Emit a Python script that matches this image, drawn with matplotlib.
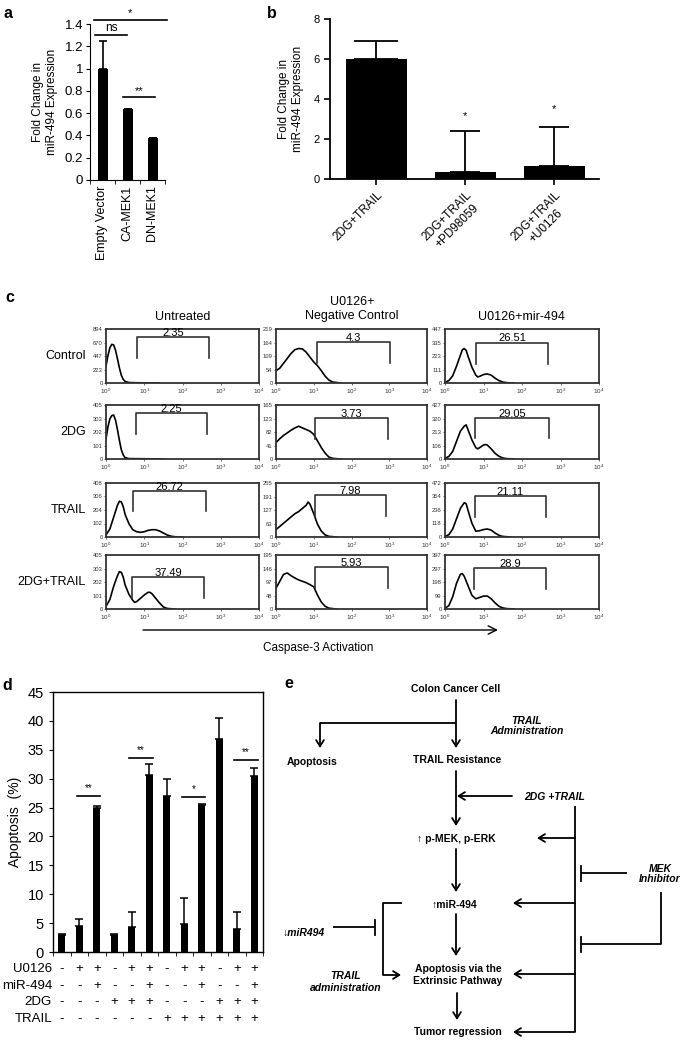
import numpy as np
import matplotlib
matplotlib.use('Agg')
import matplotlib.pyplot as plt

plt.rcParams['font.family'] = ['Liberation Sans', 'DejaVu Sans']
plt.rcParams['mathtext.fontset'] = 'custom'
plt.rcParams['mathtext.rm'] = 'Liberation Sans'

W, H = 685, 1041

# ---------------- data ----------------
a_categories = ['Empty Vector', 'CA-MEK1', 'DN-MEK1']
a_values = [1.0, 0.64, 0.38]
a_err = [0.25, 0.0, 0.0]
a_yticks = [0, 0.2, 0.4, 0.6, 0.8, 1.0, 1.2, 1.4]
a_yticklabels = ['0', '0.2', '0.4', '0.6', '0.8', '1', '1.2', '1.4']

b_categories = ['2DG+TRAIL', '2DG+TRAIL\n+PD98059', '2DG+TRAIL\n+U0126']
b_values = [6.0, 0.35, 0.65]
b_err = [0.9, 2.05, 1.95]
b_stars = ['', '*', '*']
b_star_y = [0, 3.15, 3.5]
b_yticks = [0, 2, 4, 6, 8]

c_columns = ['Untreated', 'U0126+\nNegative Control', 'U0126+mir-494']
c_rows = ['Control', '2DG', 'TRAIL', '2DG+TRAIL']
c_percent = [['2.35', '4.3', '26.51'],
             ['2.25', '3.73', '29.05'],
             ['26.72', '7.98', '21.11'],
             ['37.49', '5.93', '28.9']]
c_yticks = [
    [[0, 223, 447, 670, 894], [0, 54, 109, 164, 219], [0, 111, 223, 335, 447]],
    [[0, 101, 202, 303, 405], [0, 41, 82, 123, 165], [0, 106, 213, 320, 427]],
    [[0, 102, 204, 306, 408], [0, 63, 127, 191, 255], [0, 118, 236, 354, 472]],
    [[0, 101, 202, 303, 405], [0, 48, 97, 146, 195], [0, 99, 198, 297, 397]],
]
c_gate_lo = [[0.81, 1.09, 0.81], [0.78, 1.03, 0.78], [0.71, 1.03, 0.78], [0.68, 1.03, 0.75]]
c_gate_hi = [[2.69, 3.02, 2.68], [2.64, 2.97, 2.70], [2.61, 2.91, 2.62], [2.56, 2.97, 2.62]]
c_xtick_labels = ['$10^0$', '$10^1$', '$10^2$', '$10^3$', '$10^4$']

# histogram curves: log10 fluorescence position and event counts
hist_logx = [
    [[0, 0.05, 0.1, 0.15, 0.2, 0.25, 0.3, 0.35, 0.4, 0.45, 0.5, 0.6, 0.8, 1.0, 1.2, 1.4],
     [0, 0.1, 0.2, 0.3, 0.4, 0.5, 0.6, 0.7, 0.8, 0.9, 1.0, 1.1, 1.2, 1.3, 1.4, 1.5, 1.7],
     [0, 0.1, 0.2, 0.3, 0.4, 0.45, 0.5, 0.55, 0.6, 0.7, 0.8, 0.85, 0.9, 1.0, 1.1, 1.2, 1.3, 1.4, 1.5, 1.6, 1.8]],
    [[0, 0.05, 0.1, 0.15, 0.2, 0.25, 0.3, 0.35, 0.4, 0.45, 0.5, 0.6, 1.0, 1.5],
     [0, 0.1, 0.2, 0.3, 0.4, 0.5, 0.6, 0.7, 0.8, 0.9, 1.0, 1.1, 1.2, 1.3, 1.4, 1.5, 1.7],
     [0, 0.1, 0.2, 0.3, 0.4, 0.5, 0.55, 0.6, 0.7, 0.8, 0.85, 0.9, 1.0, 1.05, 1.1, 1.2, 1.3, 1.4, 1.5, 1.6, 1.8]],
    [[0, 0.1, 0.2, 0.3, 0.35, 0.4, 0.45, 0.5, 0.6, 0.7, 0.8, 0.9, 1.0, 1.1, 1.2, 1.3, 1.4, 1.5, 1.6, 1.7, 1.8, 2.0],
     [0, 0.1, 0.2, 0.3, 0.4, 0.5, 0.6, 0.7, 0.8, 0.85, 0.9, 1.0, 1.1, 1.2, 1.3, 1.4, 1.6],
     [0, 0.1, 0.2, 0.3, 0.4, 0.5, 0.55, 0.6, 0.7, 0.8, 0.9, 1.0, 1.1, 1.2, 1.3, 1.4, 1.5, 1.7]],
    [[0, 0.1, 0.2, 0.3, 0.35, 0.4, 0.45, 0.5, 0.6, 0.7, 0.75, 0.8, 0.9, 1.0, 1.1, 1.15, 1.2, 1.3, 1.4, 1.5, 1.6, 1.8],
     [0, 0.1, 0.2, 0.3, 0.4, 0.5, 0.6, 0.7, 0.8, 0.9, 1.0, 1.1, 1.2, 1.3, 1.4, 1.6],
     [0, 0.1, 0.2, 0.3, 0.4, 0.45, 0.5, 0.6, 0.7, 0.8, 0.9, 1.0, 1.1, 1.2, 1.3, 1.4, 1.5, 1.6, 1.8]],
]
hist_counts = [
    [[280, 450, 580, 640, 630, 540, 400, 250, 130, 60, 25, 8, 4, 3, 2, 0],
     [50, 60, 80, 100, 120, 135, 140, 138, 125, 105, 85, 70, 50, 28, 12, 4, 0],
     [5, 20, 60, 140, 230, 275, 285, 270, 220, 130, 65, 50, 55, 70, 75, 65, 40, 20, 8, 3, 0]],
    [[150, 240, 300, 325, 330, 290, 220, 140, 70, 30, 10, 3, 2, 0],
     [50, 62, 72, 80, 88, 95, 100, 95, 90, 85, 75, 55, 35, 18, 6, 2, 0],
     [5, 20, 60, 140, 220, 260, 270, 230, 150, 90, 80, 90, 110, 115, 110, 80, 45, 22, 8, 3, 0]],
    [[15, 60, 150, 240, 270, 265, 230, 170, 100, 55, 40, 35, 40, 50, 55, 55, 45, 30, 15, 6, 2, 0],
     [35, 50, 65, 80, 95, 110, 120, 135, 150, 165, 155, 110, 60, 28, 10, 3, 0],
     [5, 20, 70, 160, 250, 300, 290, 230, 120, 50, 55, 65, 70, 60, 35, 15, 5, 0]],
    [[20, 70, 170, 250, 280, 275, 240, 180, 110, 65, 50, 55, 80, 105, 125, 125, 115, 80, 45, 15, 4, 0],
     [75, 100, 125, 130, 120, 112, 105, 100, 95, 88, 80, 50, 25, 10, 3, 0],
     [5, 25, 90, 190, 255, 260, 240, 170, 100, 75, 85, 95, 95, 75, 45, 20, 8, 3, 0]],
]

d_values = [3.0, 4.5, 25.0, 3.0, 4.3, 30.6, 27.0, 4.8, 25.5, 36.9, 3.9, 30.4]
d_err = [0.2, 1.2, 0.3, 0.1, 2.6, 1.9, 3.0, 4.5, 0.1, 3.6, 3.0, 1.4]
d_yticks = [0, 5, 10, 15, 20, 25, 30, 35, 40, 45]
d_treat_names = ['U0126', 'miR-494', '2DG', 'TRAIL']
d_treat = [
    ['-', '+', '+', '-', '+', '+', '-', '+', '+', '-', '+', '+'],
    ['-', '-', '+', '-', '-', '+', '-', '-', '+', '-', '-', '+'],
    ['-', '-', '-', '+', '+', '+', '-', '-', '-', '+', '+', '+'],
    ['-', '-', '-', '-', '-', '-', '+', '+', '+', '+', '+', '+'],
]
d_sig_pairs = [(1, 2), (4, 5), (7, 8), (10, 11)]
d_sig_labels = ['**', '**', '*', '**']
d_sig_y = [27.0, 33.6, 26.8, 33.2]

# ---------------- figure ----------------
fig = plt.figure(figsize=(W / 100, H / 100), dpi=100)


def ax_px(x0, y0, x1, y1):
    return fig.add_axes([x0 / W, 1 - y1 / H, (x1 - x0) / W, (y1 - y0) / H])


# ---- panel a ----
axa = ax_px(90, 24, 165, 180)
xa = np.arange(len(a_values))
axa.bar(xa, a_values, width=0.4, color='black')
axa.errorbar(xa, a_values, yerr=[np.zeros(len(a_err)), a_err], fmt='none',
             ecolor='black', capsize=3, elinewidth=1.2, capthick=1.2)
axa.set_xlim(-0.5, 2.5)
axa.set_ylim(0, 1.4)
for s in ['top', 'right']:
    axa.spines[s].set_visible(False)
axa.set_yticks(a_yticks, a_yticklabels, fontsize=9.5)
axa.set_xticks(xa, a_categories, rotation=90, fontsize=9)
axa.set_xticks(np.arange(-0.5, 3, 1), minor=True)
axa.tick_params(axis='x', which='major', length=0, pad=4)
axa.tick_params(axis='x', which='minor', length=3, direction='out')
axa.tick_params(axis='y', length=3, direction='out', pad=2)
axa.set_ylabel('Fold Change in\nmiR-494 Expression', fontsize=8.5, labelpad=5)
axa.plot([-0.3, 0.98], [1.3, 1.3], color='black', lw=1.2, clip_on=False)
axa.text(0.34, 1.31, 'ns', ha='center', va='bottom', fontsize=8.5)
axa.plot([-0.34, 2.58], [1.44, 1.44], color='black', lw=1.2, clip_on=False)
axa.text(1.1, 1.45, '*', ha='center', va='bottom', fontsize=8)
axa.plot([0.82, 2.1], [0.745, 0.745], color='black', lw=1.2)
axa.text(1.46, 0.755, '**', ha='center', va='bottom', fontsize=8)

# ---- panel b ----
axb = ax_px(330, 19, 599, 179)
xb = np.arange(len(b_values))
axb.bar(xb, b_values, width=0.68, color='black')
b_caps = [16, 11, 11]
for i in range(len(b_values)):
    axb.errorbar(xb[i], b_values[i], yerr=[[0], [b_err[i]]], fmt='none',
                 ecolor='black', capsize=b_caps[i], elinewidth=1.3, capthick=1.3)
    if b_stars[i]:
        axb.text(xb[i], b_star_y[i], b_stars[i], ha='center', va='center', fontsize=8)
axb.set_xlim(-0.52, 2.5)
axb.set_ylim(0, 8)
for s in ['top', 'right']:
    axb.spines[s].set_visible(False)
for s in ['left', 'bottom']:
    axb.spines[s].set_linewidth(1.3)
axb.set_yticks(b_yticks)
axb.set_yticklabels([str(v) for v in b_yticks], fontsize=8)
axb.set_xticks(xb)
axb.set_xticklabels(b_categories, rotation=45, ha='right', rotation_mode='anchor',
                    fontsize=8.5, multialignment='center')
axb.tick_params(length=4, width=1.2, direction='out')
axb.set_ylabel('Fold Change in\nmiR-494 Expression', fontsize=8.5, labelpad=7)

# ---- panel c ----
col_x = [(106, 259), (276, 427), (445, 599)]
row_top = [329, 405, 483, 555]
box_h = 54
gate_top = [[0.85, 0.76, 0.75], [0.85, 0.76, 0.76], [0.85, 0.77, 0.76], [0.60, 0.77, 0.76]]
gate_bot = [[0.47, 0.37, 0.36], [0.47, 0.37, 0.38], [0.48, 0.39, 0.37], [0.20, 0.38, 0.37]]
for r in range(4):
    for c in range(3):
        x0, x1 = col_x[c]
        ax = ax_px(x0, row_top[r], x1, row_top[r] + box_h)
        xs = 10 ** np.array(hist_logx[r][c])
        ax.plot(xs, hist_counts[r][c], color='black', lw=1.2)
        ax.set_xscale('log')
        ax.set_xlim(1, 1e4)
        yt = c_yticks[r][c]
        ax.set_ylim(0, yt[-1])
        ax.set_yticks(yt, [str(v) for v in yt], fontsize=4.2)
        ax.set_xticks([1, 10, 100, 1000, 10000], c_xtick_labels, fontsize=4.5)
        ax.minorticks_off()
        ax.tick_params(length=1.5, width=0.5, pad=1, colors='#333333')
        for s in ax.spines.values():
            s.set_linewidth(1.3)
            s.set_color('#333333')
        lo, hi = 10 ** c_gate_lo[r][c], 10 ** c_gate_hi[r][c]
        tr = ax.get_xaxis_transform()
        gt, gb = gate_top[r][c], gate_bot[r][c]
        ax.plot([lo, lo, hi, hi], [gb, gt, gt, gb], transform=tr, color='#333333',
                lw=1.2, clip_on=False)
        ax.text(10 ** ((c_gate_lo[r][c] + c_gate_hi[r][c]) / 2), gt + 0.02,
                c_percent[r][c], transform=tr, ha='center', va='baseline',
                fontsize=8, clip_on=False)

# ---- panel d ----
axd = ax_px(53, 692, 263, 952)
xd = np.arange(len(d_values))
axd.bar(xd, d_values, width=0.42, color='black')
axd.errorbar(xd, d_values, yerr=[np.zeros(len(d_err)), d_err], fmt='none',
             ecolor='black', capsize=3, elinewidth=1.1, capthick=1.1)
axd.set_xlim(-0.5, 11.5)
axd.set_ylim(0, 45)
axd.set_yticks(d_yticks)
axd.set_yticklabels([str(v) for v in d_yticks], fontsize=10.5)
axd.set_xticks([])
axd.set_xticks(np.arange(-0.5, 12, 1), minor=True)
axd.tick_params(axis='x', which='minor', length=3, direction='out')
axd.tick_params(axis='y', length=3, direction='out')
axd.set_ylabel('Apoptosis  (%)', fontsize=10, labelpad=4)
for s in axd.spines.values():
    s.set_linewidth(1.0)
for (i, j), lab, yv in zip(d_sig_pairs, d_sig_labels, d_sig_y):
    axd.plot([i - 0.15, j + 0.2], [yv, yv], color='black', lw=1.2)
    axd.text((i + j) / 2 + 0.02, yv + 0.5, lab, ha='center', va='bottom', fontsize=7)
row_y = [969, 986, 1002, 1019]
xtr = axd.get_xaxis_transform()
for k, name in enumerate(d_treat_names):
    yf = (952 - row_y[k]) / 260
    axd.text(-0.005, yf, name, transform=axd.transAxes, ha='right', va='center',
             fontsize=9.5)
    for i, sym in enumerate(d_treat[k]):
        axd.text(xd[i], yf, sym, transform=xtr, ha='center', va='center', fontsize=9.5)

# ---- overlay: labels, panel c texts, panel e diagram ----
ov = fig.add_axes([0, 0, 1, 1])
ov.set_xlim(0, W)
ov.set_ylim(H, 0)
ov.axis('off')
ov.patch.set_alpha(0)

for lab, (x, y) in zip('abcde', [(8, 13), (272, 13), (10, 297), (7, 685), (289, 684)]):
    ov.text(x, y, lab, fontsize=11.5, fontweight='bold', ha='center', va='center')

# panel c headers
hdr_x = [183, 352, 521]
hdr_y = [317, 309, 317]
for t, x, y in zip(c_columns, hdr_x, hdr_y):
    ov.text(x, y, t, ha='center', va='center', fontsize=9, linespacing=1.15)
for k, name in enumerate(c_rows):
    ov.text(86, row_top[k] + 27, name, ha='right', va='center', fontsize=9)
ov.annotate('', xy=(498, 630), xytext=(143, 630),
            arrowprops=dict(arrowstyle='->,head_length=0.6,head_width=0.3', lw=1.0,
                            color='black', shrinkA=0, shrinkB=0))
ov.text(318, 648, 'Caspase-3 Activation', ha='center', va='center', fontsize=8.5)

# panel e
LW = 1.3
ARW = dict(arrowstyle='->,head_length=0.45,head_width=0.28', lw=LW, color='black',
           shrinkA=0, shrinkB=0)


def arrow(x0, y0, x1, y1):
    ov.annotate('', xy=(x1, y1), xytext=(x0, y0), arrowprops=ARW)


def line(xs, ys):
    ov.plot(xs, ys, color='black', lw=LW, solid_capstyle='butt')


def tbar(x, y):
    ov.plot([x, x], [y - 7.5, y + 7.5], color='black', lw=LW)


arrow(456, 700, 456, 748)
line([320, 456], [723, 723])
arrow(320, 723, 320, 748)
arrow(456, 771, 456, 826)
arrow(512, 796, 457, 796)
line([575, 575], [806, 1032])
arrow(575, 838, 537, 838)
arrow(456, 849, 456, 892)
line([627, 581], [873, 873])
tbar(581, 873)
line([661, 661, 581], [892, 944, 944])
tbar(581, 944)
arrow(575, 903, 513, 903)
arrow(456, 914, 456, 956)
arrow(575, 974, 513, 974)
arrow(457, 993, 457, 1020)
arrow(575, 1032, 513, 1032)
line([402, 383, 383], [903, 903, 975])
arrow(383, 975, 401, 975)
line([333, 375], [927, 927])
tbar(375, 927)

EF = dict(fontsize=7.5, fontweight='bold', ha='center', va='center')
EI = dict(fontsize=7.5, fontweight='bold', style='italic', ha='center', va='center')
ov.text(456, 689, 'Colon Cancer Cell', **EF)
ov.text(527, 726, 'TRAIL\nAdministration', linespacing=1.1, **EI)
ov.text(312, 762, 'Apoptosis', **EF)
ov.text(457, 760, 'TRAIL Resistance', **EF)
ov.text(555, 797, '2DG +TRAIL', **EI)
ov.text(456, 839, '\u2191 p-MEK, p-ERK', **EF)
ov.text(660, 874, 'MEK\nInhibitor', linespacing=1.1, **EI)
ov.text(454, 905, '\u2191miR-494', **EF)
ov.text(304, 933, '\u2193miR494', **EI)
ov.text(458, 975, 'Apoptosis via the\nExtrinsic Pathway', linespacing=1.15, **EF)
ov.text(458, 1032, 'Tumor regression', **EF)
ov.text(346, 982, 'TRAIL\nadministration', linespacing=1.15, **EI)

fig.savefig('out.png', dpi=100)
